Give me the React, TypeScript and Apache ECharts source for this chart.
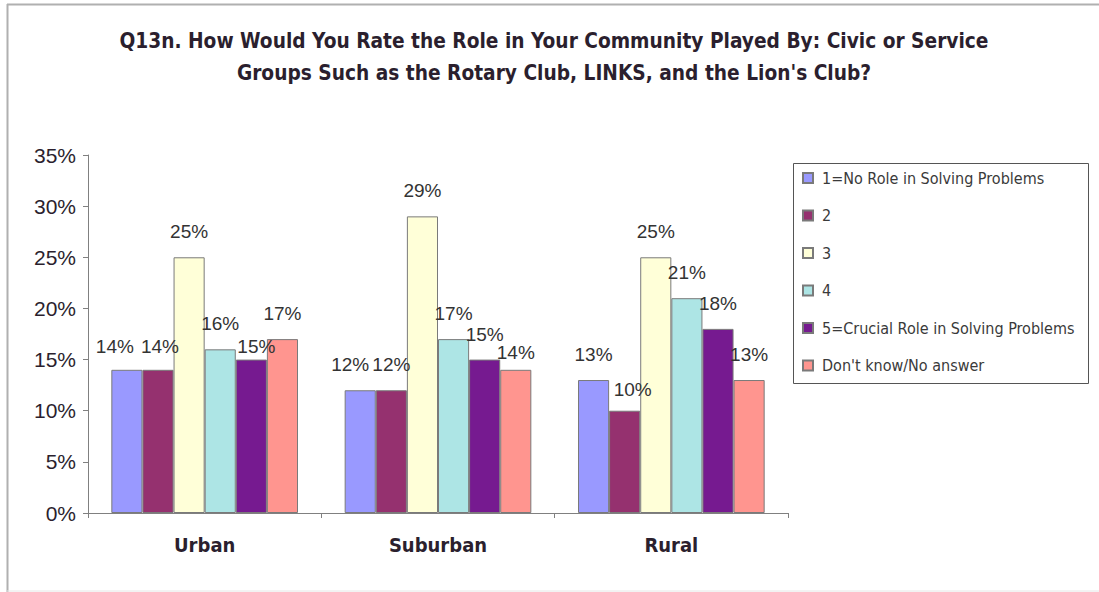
import React, { useEffect, useRef } from "react";
import * as echarts from "echarts";

const categories = ["Urban", "Suburban", "Rural"];
const seriesNames = [
  "1=No Role in Solving Problems",
  "2",
  "3",
  "4",
  "5=Crucial Role in Solving Problems",
  "Don't know/No answer",
];
const role1 = [14, 12, 13];
const role2 = [14, 12, 10];
const role3 = [25, 29, 25];
const role4 = [16, 17, 21];
const role5 = [15, 15, 18];
const dontKnow = [17, 14, 13];
const seriesValues = [role1, role2, role3, role4, role5, dontKnow];
const colors = ["#9999FF", "#95316F", "#FFFFD8", "#ADE5E5", "#761A90", "#FF958F"];
const yTicks = [0, 5, 10, 15, 20, 25, 30, 35];

// label nudges (layout only), per series then per category: [dx, dy]
const labelNudges: number[][][] = [
  [[-12, 2], [-10, 0], [0, 0]],
  [[2, 2], [0, 0], [8, 4]],
  [[0, 0], [0, 0], [0, 0]],
  [[0, 0], [0, 0], [0, 0]],
  [[5, 12], [0, 0], [0, 0]],
  [[0, 0], [0, 8], [0, 0]],
];

const titleText =
  "Q13n. How Would You Rate the Role in Your Community Played By: Civic or Service\nGroups Such as the Rotary Club, LINKS, and the Lion's Club?";

export default function App() {
  const ref = useRef<HTMLDivElement>(null);
  useEffect(() => {
    if (!ref.current) return;
    const chart = echarts.init(ref.current, null, { renderer: "svg" });
    chart.setOption({
      animation: false,
      backgroundColor: "#ffffff",
      title: {
        text: titleText,
        left: 549,
        textAlign: "center",
        top: 20,
        textStyle: {
          fontFamily: "DejaVu Sans Condensed, DejaVu Sans",
          fontWeight: "bold",
          fontSize: 20.7,
          lineHeight: 32,
          color: "#2b1f2e",
        },
      },
      legend: {
        orient: "vertical",
        left: 802,
        top: 170,
        padding: 0,
        itemGap: 21.5,
        itemWidth: 10,
        itemHeight: 10,
        icon: "rect",
        data: seriesNames,
        textStyle: {
          fontFamily: "DejaVu Sans Condensed, DejaVu Sans",
          fontSize: 16,
          color: "#3a3a3a",
          padding: [0, 0, 0, 4],
        },
      },
      grid: { left: 88, right: 311, top: 155, bottom: 79, containLabel: false },
      xAxis: {
        type: "category",
        data: categories,
        axisLine: { lineStyle: { color: "#808080", width: 1 } },
        axisTick: { show: true, length: 5, lineStyle: { color: "#808080" } },
        axisLabel: {
          margin: 22,
          fontFamily: "DejaVu Sans Condensed, DejaVu Sans",
          fontWeight: "bold",
          fontSize: 20,
          color: "#2b1f2e",
        },
      },
      yAxis: {
        type: "value",
        min: 0,
        max: 35,
        interval: 5,
        axisLine: { show: true, lineStyle: { color: "#808080", width: 1 } },
        axisTick: { show: true, length: 5, lineStyle: { color: "#808080" } },
        splitLine: { show: false },
        axisLabel: {
          margin: 12,
          formatter: (v: number) => (yTicks.includes(v) ? v + "%" : ""),
          fontFamily: "Liberation Sans, Arial",
          fontSize: 21,
          color: "#2b1f2e",
        },
      },
      series: seriesNames.map((name, i) => ({
        name,
        type: "bar",
        data: seriesValues[i].map((v, j) => ({
          value: v,
          label: { offset: labelNudges[i][j] },
        })),
        barGap: "0%",
        barCategoryGap: "20%",
        itemStyle: { color: colors[i], borderColor: "#7a7a7a", borderWidth: 1 },
        label: {
          show: true,
          position: "top",
          distance: 16,
          formatter: "{c}%",
          fontFamily: "Liberation Sans, Arial",
          fontSize: 19,
          color: "#333333",
        },
      })),
      graphic: [
        {
          type: "line",
          shape: { x1: 7, y1: 4.5, x2: 1099, y2: 4.5 },
          style: { stroke: "#b0b0b0", lineWidth: 2 },
          silent: true,
        },
        {
          type: "line",
          shape: { x1: 7.5, y1: 4, x2: 7.5, y2: 592 },
          style: { stroke: "#b0b0b0", lineWidth: 2 },
          silent: true,
        },
        {
          type: "line",
          shape: { x1: 7, y1: 591, x2: 1099, y2: 591 },
          style: { stroke: "#e6e6e6", lineWidth: 1 },
          silent: true,
        },
        {
          type: "rect",
          shape: { x: 793.5, y: 163.5, width: 295, height: 220 },
          style: { fill: "none", stroke: "#555555", lineWidth: 1 },
          silent: true,
        },
      ],
    });
    return () => chart.dispose();
  }, []);
  return (
    <div
      ref={ref}
      style={{ position: "absolute", left: 0, top: 0, width: 1099, height: 592 }}
    />
  );
}
